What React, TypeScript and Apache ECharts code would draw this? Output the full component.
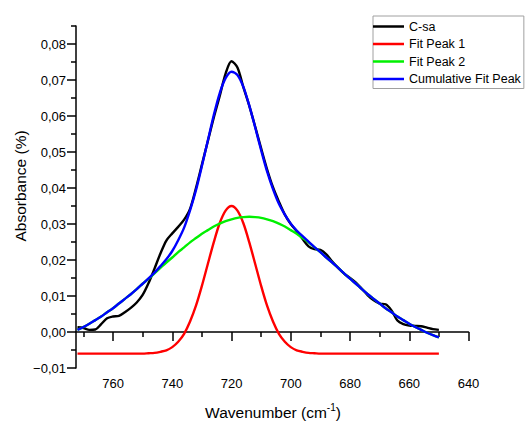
import React, { useEffect, useRef } from "react";
import * as echarts from "echarts";

// Wavenumber grid (cm-1), shared by all curves
const wavenumbers = [
  772, 770, 768, 766, 764, 762, 760, 758, 756, 754,
  752, 750, 748, 746, 744, 742, 740, 738, 736, 734,
  732, 730, 728, 726, 724, 722, 720, 718, 716, 714,
  712, 710, 708, 706, 704, 702, 700, 698, 696, 694,
  692, 690, 688, 686, 684, 682, 680, 678, 676, 674,
  672, 670, 668, 666, 664, 662, 660, 658, 656, 654,
  652, 650,
];

const cSa = [
  0.0013, 0.0011, 0.0006, 0.0007, 0.0022, 0.0038, 0.0043, 0.0045, 0.0055, 0.0067,
  0.0082, 0.0103, 0.0136, 0.0176, 0.0218, 0.0254, 0.0274, 0.0292, 0.0312, 0.0342,
  0.0400, 0.0465, 0.0530, 0.0595, 0.0655, 0.0718, 0.0752, 0.0735, 0.0680, 0.0628,
  0.0570, 0.0510, 0.0452, 0.0402, 0.0362, 0.0326, 0.0300, 0.0280, 0.0258, 0.0238,
  0.0230, 0.0228, 0.0216, 0.0196, 0.0178, 0.0162, 0.0150, 0.0137, 0.0120, 0.0102,
  0.0088, 0.0079, 0.0077, 0.0060, 0.0032, 0.0022, 0.0018, 0.0017, 0.0016, 0.0012,
  0.0008, 0.0006,
];

const fitPeak1 = [
  -0.006, -0.006, -0.006, -0.006, -0.006, -0.006, -0.006, -0.006, -0.006, -0.006,
  -0.006, -0.006, -0.0059, -0.0058, -0.0055, -0.0051, -0.0042, -0.0027, -0.0005, 0.0029,
  0.0073, 0.0128, 0.0189, 0.0249, 0.0302, 0.0337, 0.0350, 0.0337, 0.0302, 0.0249,
  0.0189, 0.0128, 0.0073, 0.0029, -0.0005, -0.0027, -0.0042, -0.0051, -0.0055, -0.0058,
  -0.0059, -0.006, -0.006, -0.006, -0.006, -0.006, -0.006, -0.006, -0.006, -0.006,
  -0.006, -0.006, -0.006, -0.006, -0.006, -0.006, -0.006, -0.006, -0.006, -0.006,
  -0.006, -0.006,
];

const fitPeak2 = [
  0.0006, 0.0014, 0.0023, 0.0033, 0.0043, 0.0055, 0.0066, 0.0079, 0.0092, 0.0105,
  0.0119, 0.0134, 0.0148, 0.0163, 0.0178, 0.0193, 0.0207, 0.0222, 0.0235, 0.0249,
  0.0261, 0.0273, 0.0283, 0.0293, 0.0301, 0.0308, 0.0313, 0.0317, 0.0319, 0.0320,
  0.0319, 0.0317, 0.0313, 0.0308, 0.0301, 0.0293, 0.0283, 0.0273, 0.0261, 0.0249,
  0.0235, 0.0222, 0.0207, 0.0193, 0.0178, 0.0163, 0.0148, 0.0134, 0.0119, 0.0105,
  0.0092, 0.0079, 0.0066, 0.0055, 0.0043, 0.0033, 0.0023, 0.0014, 0.0006, -0.0002,
  -0.0009, -0.0015,
];

const cumulativeFit = [
  0.0006, 0.0014, 0.0023, 0.0033, 0.0043, 0.0055, 0.0066, 0.0079, 0.0092, 0.0105,
  0.0119, 0.0134, 0.0149, 0.0165, 0.0183, 0.0202, 0.0225, 0.0255, 0.0290, 0.0338,
  0.0394, 0.0461, 0.0532, 0.0602, 0.0663, 0.0705, 0.0723, 0.0714, 0.0681, 0.0629,
  0.0568, 0.0505, 0.0446, 0.0397, 0.0356, 0.0326, 0.0301, 0.0282, 0.0266, 0.0251,
  0.0236, 0.0222, 0.0207, 0.0193, 0.0178, 0.0163, 0.0148, 0.0134, 0.0119, 0.0105,
  0.0092, 0.0079, 0.0066, 0.0055, 0.0043, 0.0033, 0.0023, 0.0014, 0.0006, -0.0002,
  -0.0009, -0.0015,
];

const xMajorTicks = [640, 660, 680, 700, 720, 740, 760];
const xMinorTicks = [650, 670, 690, 710, 730, 750, 770];
const yMajorTicks = [-0.01, 0, 0.01, 0.02, 0.03, 0.04, 0.05, 0.06, 0.07, 0.08];
const yMinorTicks = [-0.005, 0.005, 0.015, 0.025, 0.035, 0.045, 0.055, 0.065, 0.075, 0.085];

const seriesNames = ["C-sa", "Fit Peak 1", "Fit Peak 2", "Cumulative Fit Peak"];
const seriesColors = ["#000000", "#ff0000", "#00f000", "#0000ff"];

const FONT = "'Liberation Sans', Arial, sans-serif";

function pairs(ys: number[]) {
  return wavenumbers.map((x, i) => [x, ys[i]]);
}

export default function App() {
  const ref = useRef<HTMLDivElement>(null);
  useEffect(() => {
    if (!ref.current) return;
    const chart = echarts.init(ref.current, undefined, { renderer: "svg" });
    const axisLineStyle = { color: "#000", width: 1.5 };
    const fmtY = (v: number) => {
      const s = Math.abs(v).toFixed(2).replace(".", ",");
      return v < -1e-9 ? "\u2212" + s : s;
    };
    const xCommon = {
      type: "value" as const,
      min: 640,
      max: 772.5,
      inverse: true,
      splitLine: { show: false },
      gridIndex: 0,
    };
    const yCommon = {
      type: "value" as const,
      min: -0.01,
      max: 0.085,
      splitLine: { show: false },
      gridIndex: 0,
    };
    const datasets = [cSa, fitPeak1, fitPeak2, cumulativeFit];
    chart.setOption({
      animation: false,
      textStyle: { fontFamily: FONT },
      grid: { left: 76, right: 61.5, top: 26, bottom: 53, containLabel: false },
      xAxis: [
        {
          ...xCommon,
          position: "bottom",
          axisLine: { show: true, lineStyle: axisLineStyle },
          axisTick: { show: true, customValues: xMinorTicks, length: 5, lineStyle: axisLineStyle },
          axisLabel: { show: false },
        },
        {
          ...xCommon,
          position: "bottom",
          axisLine: { show: false },
          axisTick: { show: true, customValues: xMajorTicks, length: 9, lineStyle: axisLineStyle },
          axisLabel: {
            show: true,
            customValues: xMajorTicks,
            fontSize: 13,
            color: "#000",
            margin: 9,
            fontFamily: FONT,
          },
        },
      ],
      yAxis: [
        {
          ...yCommon,
          position: "left",
          axisLine: { show: true, lineStyle: axisLineStyle },
          axisTick: { show: true, customValues: yMinorTicks, length: 5, lineStyle: axisLineStyle },
          axisLabel: { show: false },
        },
        {
          ...yCommon,
          position: "left",
          axisLine: { show: false },
          axisTick: { show: true, customValues: yMajorTicks, length: 9, lineStyle: axisLineStyle },
          axisLabel: {
            show: true,
            customValues: yMajorTicks,
            formatter: fmtY,
            fontSize: 13,
            color: "#000",
            margin: 10,
            fontFamily: FONT,
          },
        },
      ],
      legend: {
        data: seriesNames,
        orient: "vertical",
        left: 373,
        top: 16,
        icon: "rect",
        itemWidth: 31,
        itemHeight: 2.5,
        itemGap: 4.5,
        borderColor: "#a0a0a0",
        borderWidth: 1,
        borderRadius: 0,
        padding: [4, 3, 3, 0],
        textStyle: { fontSize: 12.5, color: "#000", fontFamily: FONT, lineHeight: 13 },
      },
      graphic: [
        {
          type: "text",
          x: 20,
          y: 186,
          rotation: Math.PI / 2,
          style: {
            text: "Absorbance (%)",
            fontSize: 15.5,
            fontFamily: FONT,
            fill: "#000",
            textAlign: "center",
            textVerticalAlign: "middle",
          },
        },
        {
          type: "text",
          x: 273,
          y: 411,
          style: {
            text: "{a|Wavenumber (cm}{b|-1}{a|)}",
            fontFamily: FONT,
            fill: "#000",
            textAlign: "center",
            textVerticalAlign: "middle",
            rich: {
              a: { fontSize: 15.5, fontFamily: FONT, fill: "#000", verticalAlign: "bottom", lineHeight: 18 },
              b: { fontSize: 10, fontFamily: FONT, fill: "#000", verticalAlign: "top", lineHeight: 18 },
            },
          },
        },
      ],
      series: datasets.map((d, i) => ({
        name: seriesNames[i],
        type: "line",
        xAxisIndex: 0,
        yAxisIndex: 0,
        data: pairs(d),
        showSymbol: false,
        symbol: "none",
        smooth: 0.3,
        clip: true,
        color: seriesColors[i],
        lineStyle: { color: seriesColors[i], width: 2.4 },
        itemStyle: { color: seriesColors[i] },
        z: 2 + i,
      })),
    });
    return () => chart.dispose();
  }, []);
  return (
    <div
      ref={ref}
      style={{ position: "fixed", left: 0, top: 0, width: 530, height: 421, background: "#fff" }}
    />
  );
}
